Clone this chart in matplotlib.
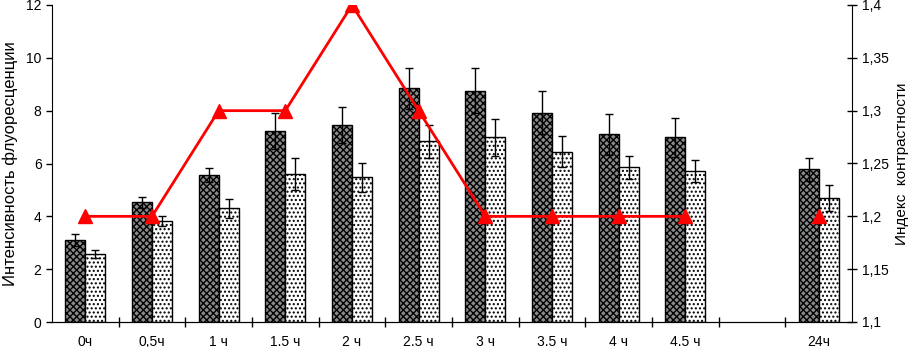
import numpy as np
import matplotlib
matplotlib.use("Agg")
import matplotlib.pyplot as plt
from matplotlib.ticker import FixedLocator, FuncFormatter

plt.rcParams['font.family'] = ['Liberation Sans', 'DejaVu Sans']
plt.rcParams['hatch.linewidth'] = 1.0

# data (NaN = empty slot)
labels = ['0ч', '0,5ч', '1 ч', '1.5 ч', '2 ч', '2.5 ч', '3 ч', '3.5 ч',
          '4 ч', '4.5 ч', '', '24ч']
dark = [3.1, 4.53, 5.57, 7.22, 7.46, 8.84, 8.76, 7.93, 7.1, 7.0, np.nan, 5.78]
dark_err = [0.22, 0.22, 0.27, 0.68, 0.67, 0.76, 0.84, 0.8, 0.79, 0.74, np.nan, 0.44]
light = [2.58, 3.83, 4.3, 5.6, 5.48, 6.84, 7.0, 6.45, 5.86, 5.72, np.nan, 4.7]
light_err = [0.15, 0.2, 0.36, 0.62, 0.55, 0.62, 0.7, 0.58, 0.44, 0.43, np.nan, 0.49]
contrast = [1.2, 1.2, 1.3, 1.3, 1.4, 1.3, 1.2, 1.2, 1.2, 1.2, np.nan, 1.2]

x = np.arange(len(labels))
w = 0.3

fig = plt.figure(figsize=(9.16, 3.47), dpi=100)
ax = fig.add_axes([52 / 916, 25 / 347, 800 / 916, 317 / 347])

# dark bars: black net with grey holes
ax.bar(x - w / 2, dark, w, color='#8a8a8a', edgecolor='black',
       hatch='xxxxx', linewidth=1, zorder=2)
# light bars: white with dots
ax.bar(x + w / 2, light, w, color='white', edgecolor='black',
       hatch='....', linewidth=1, zorder=2)

ax.errorbar(x - w / 2, dark, yerr=dark_err, fmt='none', ecolor='black',
            elinewidth=1, capsize=3, capthick=1, zorder=4)
ax.errorbar(x + w / 2, light, yerr=light_err, fmt='none', ecolor='black',
            elinewidth=1, capsize=3, capthick=1, zorder=4)

ax.set_xlim(-0.5, len(labels) - 0.5)
ax.set_ylim(0, 12)
ax.set_yticks(np.arange(0, 13, 2))

ax.xaxis.set_major_locator(FixedLocator(np.arange(0.5, len(labels) - 0.5, 1)))
ax.xaxis.set_major_formatter(FuncFormatter(lambda v, p: ''))
ax.xaxis.set_minor_locator(FixedLocator(x))
ax.set_xticklabels(labels, minor=True)
ax.tick_params(axis='x', which='major', direction='inout', length=7, width=1)
ax.tick_params(axis='x', which='minor', length=0, pad=9, labelsize=10)
ax.tick_params(axis='y', direction='out', length=4, width=1, labelsize=10)

ax.spines['top'].set_visible(False)
ax.spines['right'].set_visible(False)
ax.set_ylabel('Интенсивность флуоресценции', fontsize=12)
ax.yaxis.set_label_coords(-0.043, 0.5)

ax2 = ax.twinx()
ax2.plot(x, contrast, color='#ff0000', linewidth=2, marker='^',
         markersize=10, zorder=5)
ax2.set_ylim(1.1, 1.4)
ax2.set_yticks(np.arange(1.1, 1.4001, 0.05))
ax2.yaxis.set_major_formatter(
    FuncFormatter(lambda v, p: ('%.2f' % v).rstrip('0').replace('.', ',')))
ax2.tick_params(axis='y', direction='inout', length=7, width=1, labelsize=10)
ax2.spines['top'].set_visible(False)
ax2.spines['left'].set_visible(False)
ax2.set_ylabel('Индекс  контрастности', fontsize=11)
ax2.yaxis.set_label_coords(1.054, 0.5)

fig.savefig('out.png', dpi=100)
